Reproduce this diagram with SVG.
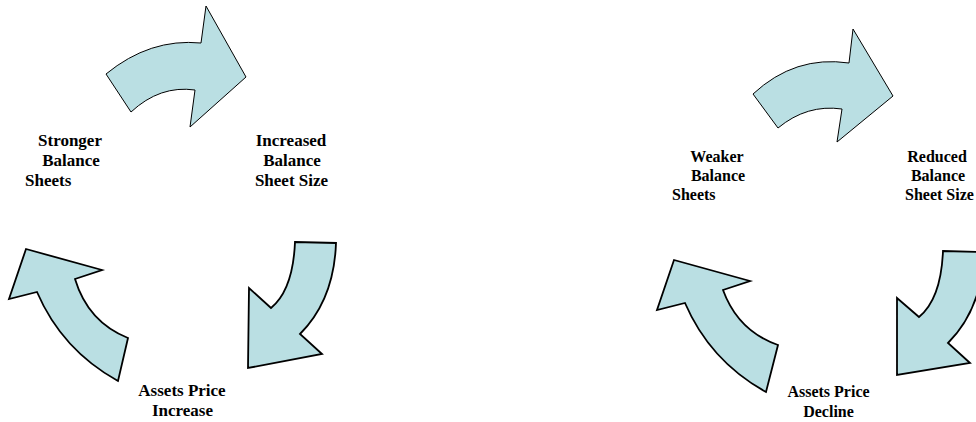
<svg xmlns="http://www.w3.org/2000/svg" width="976" height="422" viewBox="0 0 976 422">
<style>
.arr{fill:#BADFE3;stroke:#000;stroke-linejoin:miter}
.thin{stroke-width:1}
.thick{stroke-width:1.8}
.lbl{font-family:"Liberation Serif","Times New Roman",serif;font-weight:bold;fill:#000}
.l17{font-size:17px}
.l16{font-size:16px}
</style>
<rect width="976" height="422" fill="#fff"/>
<g id="connectors">
<path id="arrow-left-top" class="arr thin" d="M106,74 Q150,38 201,43 L206,6 L246,77 L190,127 L195,90 Q160,85 131,112 Z"/>
<path id="arrow-left-right" class="arr thick" d="M295,242 L336,243 Q334,300 300,334 L322,354 L248,368 L249,288 L271,308 Q293,290 295,242 Z"/>
<path id="arrow-left-left" class="arr thick" d="M128,338 Q88,322 75,279 L102,270 L26,249 L9,299 L37,292 Q62,350 118,381 Z"/>
<path id="arrow-right-top" class="arr thin" d="M753,94 Q795,55 849,63 L853,29 L893,96 L837,142 L842,109 Q807,104 778,128 Z"/>
<path id="arrow-right-right" class="arr thick" d="M943,251 L984,252 Q982,309 948,343 L970,363 L897,375 L897,298 L919,317 Q941,299 943,251 Z"/>
<path id="arrow-right-left" class="arr thick" d="M778,345 Q738,331 723,290 L750,281 L674,260 L657,310 L685,303 Q710,361 766,392 Z"/>
</g>
<g id="node-stronger" class="lbl l17">
<text x="70" y="146" text-anchor="middle">Stronger</text>
<text x="71" y="166" text-anchor="middle">Balance</text>
<text x="25" y="186">Sheets</text>
</g>
<g id="node-increased" class="lbl l17" text-anchor="middle">
<text x="291" y="146">Increased</text>
<text x="292" y="166">Balance</text>
<text x="291.5" y="186">Sheet Size</text>
</g>
<g id="node-increase" class="lbl l17" text-anchor="middle">
<text x="182" y="396">Assets Price</text>
<text x="182.5" y="416">Increase</text>
</g>
<g id="node-weaker" class="lbl l16">
<text x="717" y="162" text-anchor="middle">Weaker</text>
<text x="718" y="181" text-anchor="middle">Balance</text>
<text x="672" y="200">Sheets</text>
</g>
<g id="node-reduced" class="lbl l16">
<text x="937" y="162" text-anchor="middle">Reduced</text>
<text x="938" y="181" text-anchor="middle">Balance</text>
<text x="905" y="200">Sheet Size</text>
</g>
<g id="node-decline" class="lbl l16" text-anchor="middle">
<text x="828.5" y="397">Assets Price</text>
<text x="828.5" y="417">Decline</text>
</g>
</svg>
